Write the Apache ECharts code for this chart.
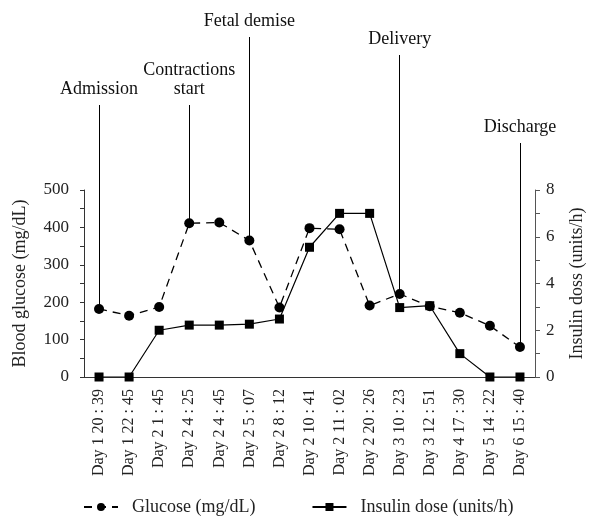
<!DOCTYPE html>
<html>
<head>
<meta charset="utf-8">
<script src="https://cdn.jsdelivr.net/npm/echarts@6/dist/echarts.min.js"></script>
<style>html,body{margin:0;padding:0;background:#fff;}#c{width:594px;height:517px;}</style>
</head>
<body>
<div id="c"></div>
<script>
const categories = ["Day 1 20 : 39","Day 1 22 : 45","Day 2 1 : 45","Day 2 4 : 25","Day 2 4 : 45","Day 2 5 : 07","Day 2 8 : 12","Day 2 10 : 41","Day 2 11 : 02","Day 2 20 : 26","Day 3 10 : 23","Day 3 12 : 51","Day 4 17 : 30","Day 5 14 : 22","Day 6 15 : 40"];
const glucose = [182, 164, 187, 411, 413, 365, 186, 398, 395, 191, 222, 189, 172, 137, 80];
const insulin = [0, 0, 2, 2.22, 2.22, 2.26, 2.48, 5.55, 7, 7, 2.97, 3.05, 1, 0, 0];
const glucoseTicks = [0, 100, 200, 300, 400, 500];
const insulinTicks = [0, 2, 4, 6, 8];
const eventNames = ["Admission", "Contractions\nstart", "Fetal demise", "Delivery", "Discharge"];
const eventIndex = [0, 3, 5, 10, 14];
const eventTopPx = [105, 105, 37, 55, 143];

const FONT = "Liberation Serif";
const chart = echarts.init(document.getElementById('c'), null, {renderer: 'canvas'});
const markData = eventIndex.map((idx, k) => [
  {coord: [idx, glucose[idx]], name: eventNames[k]},
  {coord: [idx, glucose[idx]], y: eventTopPx[k]}
]);
chart.setOption({
  animation: false,
  textStyle: {fontFamily: FONT, color: '#222'},
  grid: {left: 84, right: 53, top: 190, bottom: 140, containLabel: false},
  legend: {
    left: 78, top: 493, itemWidth: 34, itemHeight: 10, itemGap: 56,
    textStyle: {fontFamily: FONT, fontSize: 18, color: '#222', padding: [0, 0, 0, 9]},
    data: ["Glucose (mg/dL)", "Insulin dose (units/h)"]
  },
  xAxis: {
    type: 'category', data: categories, boundaryGap: true,
    axisLine: {lineStyle: {color: '#333', width: 1}},
    axisTick: {alignWithLabel: true, length: 5, lineStyle: {color: '#333'}},
    axisLabel: {rotate: 90, interval: 0, fontFamily: FONT, fontSize: 16, color: '#222', margin: 12}
  },
  yAxis: [{
    type: 'value', min: glucoseTicks[0], max: glucoseTicks[glucoseTicks.length - 1], interval: 100,
    name: 'Blood glucose (mg/dL)', nameLocation: 'middle', nameGap: 55, nameRotate: 90,
    nameTextStyle: {fontFamily: FONT, fontSize: 18, color: '#222'},
    axisLine: {show: true, lineStyle: {color: '#333'}},
    axisTick: {show: true, length: 4, lineStyle: {color: '#333'}},
    minorTick: {show: true, splitNumber: 2, length: 4, lineStyle: {color: '#333'}},
    splitLine: {show: false},
    axisLabel: {fontFamily: FONT, fontSize: 17, color: '#222', margin: 15}
  }, {
    type: 'value', min: insulinTicks[0], max: insulinTicks[insulinTicks.length - 1], interval: 2,
    name: 'Insulin doss (units/h)', nameLocation: 'middle', nameGap: 33, nameRotate: 90,
    nameTextStyle: {fontFamily: FONT, fontSize: 18, color: '#222'},
    axisLine: {show: true, lineStyle: {color: '#555'}},
    axisTick: {show: true, length: 5, lineStyle: {color: '#555'}},
    minorTick: {show: true, splitNumber: 2, length: 5, lineStyle: {color: '#555'}},
    splitLine: {show: false},
    axisLabel: {fontFamily: FONT, fontSize: 17, color: '#222', margin: 11}
  }],
  series: [{
    name: "Glucose (mg/dL)", type: 'line', yAxisIndex: 0, data: glucose,
    symbol: 'circle', symbolSize: 10,
    itemStyle: {color: '#000'},
    lineStyle: {color: '#000', width: 1.3, type: [8, 6]},
    emphasis: {disabled: true},
    markLine: {
      silent: true, symbol: ['none', 'none'],
      lineStyle: {color: '#000', width: 1, type: 'solid'},
      label: {show: true, position: 'end', distance: 6, formatter: '{b}', fontFamily: FONT, fontSize: 18, color: '#111', lineHeight: 19},
      emphasis: {disabled: true},
      data: markData
    },
    z: 3
  }, {
    name: "Insulin dose (units/h)", type: 'line', yAxisIndex: 1, data: insulin,
    symbol: 'rect', symbolSize: 9,
    itemStyle: {color: '#000'},
    lineStyle: {color: '#000', width: 1.2, type: 'solid'},
    emphasis: {disabled: true},
    z: 2
  }]
});
</script>
</body>
</html>
